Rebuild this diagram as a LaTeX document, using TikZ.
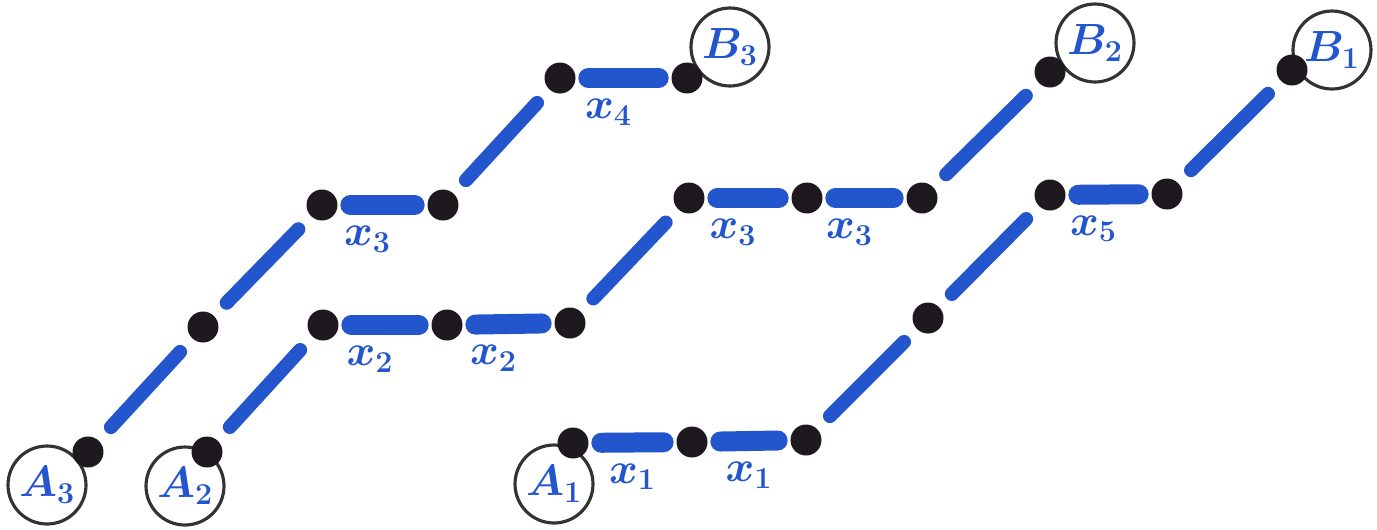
\documentclass[tikz,border=0pt]{standalone}
\usetikzlibrary{arrows.meta, positioning, calc}
\definecolor{inkblue}{RGB}{35,85,205}
\definecolor{inkdark}{RGB}{30,25,30}

\begin{document}
\begin{tikzpicture}[
    x=0.02cm, y=-0.02cm,
    vtx/.style={circle, fill=inkdark, inner sep=0pt, minimum size=0.62cm},
    endpt/.style={circle, draw=black!80, line width=1.8pt, minimum size=1.56cm,
                  inner sep=0pt, text=inkblue, font=\fontsize{27}{30}\selectfont\boldmath},
    hbar/.style={line width=0.4cm, inkblue, line cap=round, shorten <=0.25cm, shorten >=0.25cm},
    dbar/.style={line width=0.28cm, inkblue, line cap=round, shorten <=0.36cm, shorten >=0.36cm},
    lbl/.style={text=inkblue, font=\fontsize{27}{30}\selectfont\boldmath, below=3pt, xshift=-0.3cm}
]
\useasboundingbox (0,0) rectangle (1377,529);

% ---------------- end circles ----------------
\node[endpt] (A3) at (47,485) {$A_3$};
\node[endpt] (A2) at (185,486) {$A_2$};
\node[endpt] (A1) at (554,484) {$A_1$};
\node[endpt] (B3) at (730,47) {$B_3$};
\node[endpt] (B2) at (1095,43) {$B_2$};
\node[endpt] (B1) at (1332,50) {$B_1$};

% ---------------- path A3 -- B3 ----------------
\node[vtx] (p3a) at (88,452) {};
\node[vtx] (p3b) at (203,327) {};
\node[vtx] (p3c) at (322,205) {};
\node[vtx] (p3d) at (443,205) {};
\node[vtx] (p3e) at (560,78) {};
\node[vtx] (p3f) at (687,78) {};

\draw[dbar] (p3a) -- (p3b);
\draw[dbar] (p3b) -- (p3c);
\draw[hbar] (p3c) -- (p3d) node[lbl, midway] {$x_3$};
\draw[dbar] (p3d) -- (p3e);
\draw[hbar] (p3e) -- (p3f) node[lbl, midway] {$x_4$};

% ---------------- path A2 -- B2 ----------------
\node[vtx] (p2a) at (207,452) {};
\node[vtx] (p2b) at (323,325) {};
\node[vtx] (p2c) at (447,325) {};
\node[vtx] (p2d) at (570,323) {};
\node[vtx] (p2e) at (689,198) {};
\node[vtx] (p2f) at (807,198) {};
\node[vtx] (p2g) at (922,198) {};
\node[vtx] (p2h) at (1050,72) {};

\draw[dbar] (p2a) -- (p2b);
\draw[hbar] (p2b) -- (p2c) node[lbl, midway] {$x_2$};
\draw[hbar] (p2c) -- (p2d) node[lbl, midway] {$x_2$};
\draw[dbar] (p2d) -- (p2e);
\draw[hbar] (p2e) -- (p2f) node[lbl, midway] {$x_3$};
\draw[hbar] (p2f) -- (p2g) node[lbl, midway] {$x_3$};
\draw[dbar] (p2g) -- (p2h);

% ---------------- path A1 -- B1 ----------------
\node[vtx] (p1a) at (573,443) {};
\node[vtx] (p1b) at (692,442) {};
\node[vtx] (p1c) at (806,440) {};
\node[vtx] (p1d) at (928,318) {};
\node[vtx] (p1e) at (1050,195) {};
\node[vtx] (p1f) at (1167,194) {};
\node[vtx] (p1g) at (1292,70) {};

\draw[hbar] (p1a) -- (p1b) node[lbl, midway, xshift=0.3cm] {$x_1$};
\draw[hbar] (p1b) -- (p1c) node[lbl, midway, xshift=0.3cm] {$x_1$};
\draw[dbar] (p1c) -- (p1d);
\draw[dbar] (p1d) -- (p1e);
\draw[hbar] (p1e) -- (p1f) node[lbl, midway] {$x_5$};
\draw[dbar] (p1f) -- (p1g);

\end{tikzpicture}
\end{document}
